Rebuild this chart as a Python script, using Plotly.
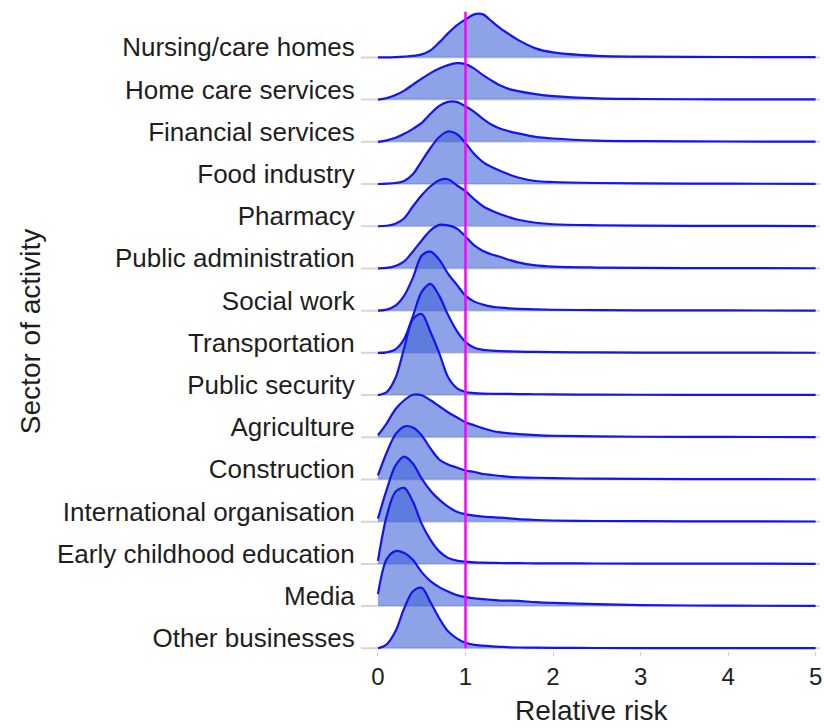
import plotly.graph_objects as go

# Relative-risk grid where the ridge heights were read
x_grid = [0.0, 0.1, 0.2, 0.3, 0.4, 0.5, 0.6, 0.7, 0.8, 0.9, 1.0, 1.1, 1.2,
          1.3, 1.4, 1.5, 1.6, 1.8, 2.0, 2.5, 3.0, 4.0, 5.0]

# Sectors, top row first
sectors = ["Nursing/care homes", "Home care services", "Financial services",
           "Food industry", "Pharmacy", "Public administration", "Social work",
           "Transportation", "Public security", "Agriculture", "Construction",
           "International organisation", "Early childhood education", "Media",
           "Other businesses"]

# Scaled density heights for each sector
nursing = [0, 0, 0.3, 0.8, 1.5, 3, 7, 15, 24, 32, 38, 43, 43, 36, 29, 23, 17.5, 9, 5, 1.5, 0.7, 0.4, 0.3]
home_care = [0, 1.5, 4.5, 9, 15, 21, 26.5, 31, 34.5, 36.5, 35.5, 31, 24.5, 19, 14, 10.5, 8.5, 5.5, 3.5, 1.3, 0.6, 0.3, 0.2]
financial = [0, 1.5, 4, 8, 13, 19, 28, 36, 40, 40, 35.5, 30, 23, 17, 13, 10.5, 8.5, 5, 3.3, 1.2, 0.6, 0.3, 0.2]
food = [0, 0.3, 1, 3, 10, 23, 36, 47, 52.5, 50, 41, 30, 22, 17, 13, 9.5, 6.5, 3, 2, 1, 0.6, 0.3, 0.2]
pharmacy = [0, 0.5, 2.5, 8, 20, 31, 40, 46, 47, 41, 35, 27, 20, 15.5, 12, 9, 6.5, 3.5, 2, 1, 0.6, 0.3, 0.2]
public_admin = [0, 0.5, 2.5, 7, 17, 28, 38, 43.5, 43, 40, 32, 23, 17.5, 14, 11.5, 8.5, 6, 3, 1.8, 0.9, 0.5, 0.3, 0.2]
social_work = [0, 1, 5, 15, 33, 55, 59, 51, 37, 26, 15, 9, 6, 4, 3, 2.3, 1.8, 1.2, 0.9, 0.5, 0.3, 0.2, 0.1]
transportation = [0, 0.5, 3.5, 14, 37, 61, 69, 57, 38, 22, 11, 5, 3, 2.2, 1.7, 1.4, 1.2, 0.9, 0.7, 0.4, 0.3, 0.2, 0.1]
public_security = [0, 3, 17, 47, 76, 81, 63, 42, 18, 7, 3, 2, 1.5, 1.3, 1.2, 1.1, 1, 0.8, 0.6, 0.4, 0.3, 0.2, 0.1]
agriculture = [2, 14, 28, 37, 42.5, 42, 37, 31, 25, 20, 15, 12, 9, 6.5, 4.8, 3.8, 3.2, 2.2, 1.5, 0.8, 0.5, 0.3, 0.2]
construction = [4, 27, 45, 53, 52, 44, 31, 20, 15, 12, 9, 7.5, 5.5, 4.5, 3.5, 2.6, 2.2, 1.7, 1.3, 0.8, 0.5, 0.3, 0.2]
international = [3, 32, 56, 65, 58, 43, 31, 22, 15, 10, 7.5, 6, 5, 4.5, 4, 3.3, 2.5, 1.7, 1.2, 0.7, 0.5, 0.3, 0.2]
early_childhood = [3, 48, 72, 76, 62, 40, 24, 12.5, 6, 3.3, 2.2, 1.6, 1.2, 1, 0.9, 0.8, 0.7, 0.6, 0.5, 0.4, 0.3, 0.2, 0.1]
media = [12, 47, 55, 53, 46, 34, 25, 19, 14.5, 11, 9, 7.8, 7, 6.2, 5.5, 5.5, 5.2, 4, 3.2, 2, 1, 0.4, 0.2]
other_businesses = [0, 4, 17, 40, 57, 60.5, 46, 30, 17, 10, 5.5, 3.5, 2.6, 2, 1.5, 1, 0.8, 0.6, 0.5, 0.3, 0.2, 0.1, 0.1]

x_ticks = [0, 1, 2, 3, 4, 5]
reference_risk = 1

series = [nursing, home_care, financial, food, pharmacy, public_admin,
          social_work, transportation, public_security, agriculture,
          construction, international, early_childhood, media,
          other_businesses]

HEIGHT_PER_ROW = 42.2  # density units per ridge row

FILL = "rgba(60,95,215,0.58)"
LINE = "rgb(20,20,240)"
FONT = "Liberation Sans, Arial, sans-serif"

n_rows = len(sectors)
fig = go.Figure()
shapes = []
for i, (name, dens) in enumerate(zip(sectors, series)):
    row = n_rows - 1 - i
    shapes.append(dict(type="line", xref="paper", yref="y", x0=-0.009, x1=1,
                       y0=row, y1=row, layer="below",
                       line=dict(color="#d6d6d6", width=2)))
    fig.add_trace(go.Scatter(x=x_grid, y=[row] * len(x_grid), mode="lines",
                             line=dict(width=0, color=LINE), showlegend=False,
                             hoverinfo="skip"))
    fig.add_trace(go.Scatter(x=x_grid, y=[row + d / HEIGHT_PER_ROW for d in dens],
                             mode="lines", fill="tonexty", fillcolor=FILL,
                             line=dict(color=LINE, width=2.2, shape="spline",
                                       smoothing=0.9),
                             name=name, showlegend=False))

shapes.append(dict(type="line", xref="x", yref="y", x0=reference_risk,
                   x1=reference_risk, y0=0, y1=15.08, layer="above",
                   line=dict(color="#ff00ff", width=2.5)))

fig.update_layout(
    width=824, height=728,
    margin=dict(l=365, r=4, t=0, b=77),
    paper_bgcolor="white", plot_bgcolor="white",
    font=dict(family=FONT, color="#1e1e1e"),
    shapes=shapes,
    xaxis=dict(range=[-0.148, 5.05], tickvals=x_ticks,
               ticktext=[str(t) for t in x_ticks], ticks="outside",
               ticklen=4, tickcolor="#cfcfcf", showgrid=False, zeroline=False,
               showline=False, tickfont=dict(size=24, family=FONT)),
    yaxis=dict(range=[-0.064, 15.36],
               tickvals=[n_rows - 1 - i + 0.24 for i in range(n_rows)],
               ticktext=sectors, ticks="outside", ticklen=4,
               tickcolor="rgba(0,0,0,0)", showgrid=False, zeroline=False,
               showline=False, tickfont=dict(size=26, family=FONT)),
    annotations=[
        dict(text="Relative risk", xref="paper", yref="paper", x=0.498,
             y=-0.091, xanchor="center", yanchor="middle", showarrow=False,
             font=dict(size=28, family=FONT)),
        dict(text="Sector of activity", xref="paper", yref="paper",
             x=-0.736, y=0.49, xanchor="center", yanchor="middle",
             textangle=-90, showarrow=False, font=dict(size=28, family=FONT)),
    ],
)

fig.write_html("out.html")
